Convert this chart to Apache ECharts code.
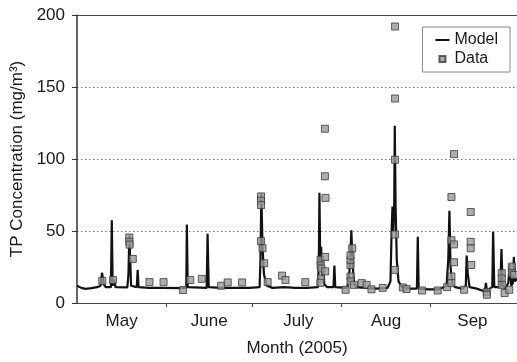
<!DOCTYPE html>
<html>
<head>
<meta charset="utf-8">
<script src="https://cdn.jsdelivr.net/npm/echarts@6/dist/echarts.min.js"></script>
<style>
  html, body { margin: 0; padding: 0; background: #fff; }
  #chart { width: 517px; height: 362px; }
</style>
</head>
<body>
<div id="chart"></div>
<script>
// days counted from May 1, 2005
var modelDays = [0, 1.5, 3, 5, 7, 8.2, 8.7, 9.3, 10, 11.8, 12.1, 12.4, 12.9, 13.4, 17.5, 17.9, 18.2, 18.5, 18.8, 20.8, 21.1, 21.4, 25, 30, 36, 38, 38.2, 38.5, 45.1, 45.4, 45.8, 50, 55, 60, 63.5, 63.8, 64.1, 64.5, 65, 66, 68, 72, 76, 80, 83.8, 84.1, 84.3, 84.6, 84.9, 85.2, 85.6, 86, 87, 89.2, 89.5, 89.8, 94, 94.6, 95, 95.4, 95.8, 96.3, 97, 100, 104, 108, 109, 109.4, 109.7, 110, 110.3, 110.5, 110.8, 111.2, 111.8, 113, 116, 118.2, 118.5, 118.8, 122, 126, 128.5, 129.1, 129.5, 129.9, 130.5, 131.5, 134, 135.2, 135.5, 135.9, 136.5, 139, 141.8, 142.2, 142.6, 143.5, 144.4, 144.7, 145.1, 147.2, 147.6, 148, 149, 150, 150.5, 151, 151.6, 151.9, 152.3, 153];
var modelValues = [12, 10.5, 9.8, 10.3, 11, 12, 21, 13, 11, 11, 57.5, 12, 16, 11, 10.8, 20, 47, 30, 12, 11, 23, 11, 10.5, 10.5, 10.3, 10.5, 54.5, 11, 10.5, 48, 11, 10.5, 10.5, 10.5, 11, 30, 76, 40, 20, 12, 10.5, 11, 10.5, 10.5, 11, 30, 76.5, 25, 39, 18, 25, 13, 11, 11, 26, 11, 10.5, 18, 30, 50.5, 28, 15, 11, 10.5, 10, 10.5, 15, 50, 67, 50, 68, 123, 65, 30, 15, 11, 10, 10, 46, 10, 9.5, 9.5, 12, 30, 64, 25, 13, 11, 10, 12, 33, 20, 11, 10, 8, 14, 7, 10, 11, 49.5, 11, 11, 37.5, 12, 10, 14, 27, 12, 14, 32, 15, 17];

var dataDays = [8.8, 12.5, 18.2, 18.2, 18.3, 19.4, 25.2, 30.1, 36.9, 39.4, 43.4, 50.1, 52.4, 57.4, 64, 64, 64, 64, 64.5, 65.1, 66.3, 71.3, 72.5, 79.4, 84.7, 84.7, 85, 84.9, 84.6, 86.3, 86.3, 86.2, 86.2, 86.4, 93.4, 95.1, 95.1, 95.1, 95.1, 95.7, 95.1, 96.3, 99, 100.7, 102.4, 106.3, 110.6, 110.6, 110.6, 110.6, 110.6, 113.3, 114.6, 120, 125.4, 128.7, 130.2, 130.2, 130.2, 130.2, 131.1, 131.1, 131.1, 134.6, 136.9, 136.9, 136.9, 137.1, 142.5, 142.5, 147.7, 147.7, 147.7, 148.7, 150.3, 151.2, 151.2, 152];
var dataValues = [15.4, 16, 45.5, 42.5, 40.5, 30.6, 14.5, 14.5, 9, 16, 16.8, 12, 14.3, 14.3, 74, 71, 68, 43, 38, 27.6, 14.5, 19, 16, 14.5, 30, 26, 24, 17, 14, 32, 22, 121, 88, 73, 9.2, 18.4, 26.4, 30, 33, 38, 15, 12.6, 13.8, 12.6, 9.5, 10.5, 192, 142, 99.5, 47.6, 23, 10.8, 9.7, 8.7, 8.7, 11, 73.6, 43.6, 18.4, 13.8, 103.4, 40.7, 28.3, 9.2, 63.2, 42.5, 38, 26.4, 7.6, 5.7, 20.7, 17, 12.6, 6.9, 9.2, 25.3, 20.7, 19.5];

var monthLabels = ["May", "June", "July", "Aug", "Sep"];
var monthLabelDays = [15.5, 46, 77, 107.5, 137.5];
var monthStartDays = [31, 61, 92, 123];

var font = "'Liberation Sans', Arial, sans-serif";

var modelData = modelDays.map(function (d, i) { return [d, modelValues[i]]; });
var pointData = dataDays.map(function (d, i) { return [d, dataValues[i]]; });

var chart = echarts.init(document.getElementById("chart"), null, { renderer: "canvas" });

var option = {
  animation: false,
  backgroundColor: "#fff",
  grid: { left: 77, right: 0, top: 15, bottom: 58 },
  legend: {
    orient: "vertical",
    right: 7,
    top: 27,
    borderColor: "#888",
    borderWidth: 1,
    padding: [5, 12, 5, 13],
    itemGap: 3,
    itemWidth: 14,
    itemHeight: 6,
    textStyle: { fontFamily: font, fontSize: 16, color: "#1a1a1a" },
    data: [
      { name: "Model", icon: "path://M0,0h14v2h-14z" },
      { name: "Data", icon: "path://M0,0h10v10h-10z" }
    ]
  },
  xAxis: [
    {
      type: "value",
      min: 0,
      max: 153,
      name: "Month (2005)",
      nameLocation: "middle",
      nameGap: 37,
      nameTextStyle: { fontFamily: font, fontSize: 17, color: "#1a1a1a" },
      axisLine: { lineStyle: { color: "#444", width: 1.2 } },
      axisTick: { customValues: monthStartDays, length: 4, lineStyle: { color: "#444" } },
      axisLabel: {
        customValues: monthLabelDays,
        margin: 10,
        fontFamily: font,
        fontSize: 17,
        color: "#1a1a1a",
        formatter: function (v) { return monthLabels[monthLabelDays.indexOf(v)]; }
      },
      splitLine: { show: false }
    },
    {
      type: "value",
      position: "top",
      min: 0,
      max: 153,
      axisLine: { show: true, lineStyle: { color: "#444", width: 1.2 } },
      axisTick: { show: false },
      axisLabel: { show: false },
      splitLine: { show: false }
    }
  ],
  yAxis: {
    type: "value",
    min: 0,
    max: 200,
    interval: 50,
    name: "TP Concentration (mg/m³)",
    nameLocation: "middle",
    nameGap: 49,
    nameTextStyle: { fontFamily: font, fontSize: 17, color: "#1a1a1a" },
    axisLine: { show: true, lineStyle: { color: "#333", width: 1.5 } },
    axisTick: { show: true, length: 5, lineStyle: { color: "#333" } },
    axisLabel: { margin: 12, fontFamily: font, fontSize: 17, color: "#1a1a1a" },
    splitLine: { lineStyle: { type: [1.5, 2.5], color: "#777", width: 1 } }
  },
  series: [
    {
      name: "Model",
      type: "line",
      data: modelData,
      showSymbol: false,
      symbol: "none",
      lineStyle: { color: "#111", width: 2.2 },
      itemStyle: { color: "#111" },
      z: 2
    },
    {
      name: "Data",
      type: "scatter",
      data: pointData,
      symbol: "rect",
      symbolSize: 7,
      itemStyle: { color: "#9a9a9a", borderColor: "#3a3a3a", borderWidth: 1 },
      z: 3
    }
  ]
};

chart.setOption(option);
window.addEventListener("resize", chart.resize);
</script>
</body>
</html>
